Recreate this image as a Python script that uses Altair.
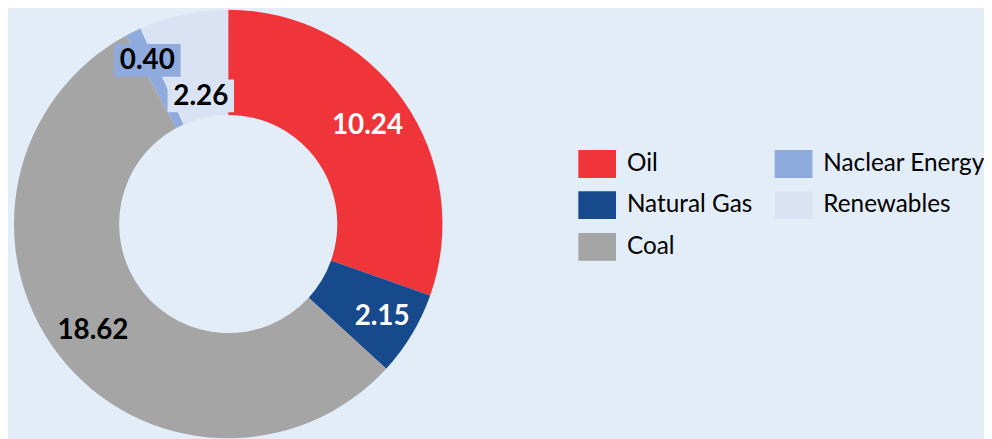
import altair as alt
import pandas as pd

categories = ["Oil", "Natural Gas", "Coal", "Naclear Energy", "Renewables"]
values = [10.24, 2.15, 18.62, 0.40, 2.26]
colors = ["#EF3539", "#174A8C", "#A5A5A5", "#8FAADC", "#DAE3F3"]

df = pd.DataFrame({
    "category": categories,
    "value": values,
    "order": list(range(len(values))),
})

CX, CY = 222, 216
R_OUT, R_IN = 216, 110
FONT = "Lato"

color_scale = alt.Scale(domain=categories, range=colors)

base = alt.Chart(df)

arcs = base.mark_arc(radius=R_OUT, radius2=R_IN, x=CX, y=CY, stroke=None).encode(
    theta=alt.Theta("value:Q", stack=True),
    order=alt.Order("order:Q"),
    color=alt.Color(
        "category:N",
        scale=color_scale,
        legend=alt.Legend(
            title=None,
            orient="none",
            legendX=575,
            legendY=136,
            columns=2,
            columnPadding=22,
            rowPadding=8,
            padding=0,
            symbolType="M-1,-0.737H1V0.737H-1Z",
            symbolSize=1444,
            symbolStrokeWidth=0,
            labelFont=FONT,
            labelFontSize=24.5,
            labelColor="#000000",
            labelOffset=11,
            labelLimit=400,
        ),
    ),
)

pos = (
    base.transform_joinaggregate(total="sum(value)")
    .transform_window(cum="sum(value)", sort=[alt.SortField("order")], frame=[None, 0])
    .transform_calculate(mid="2*PI*(datum.cum - datum.value/2)/datum.total")
    .transform_calculate(
        r="datum.category=='Oil' ? 172 : datum.category=='Natural Gas' ? 181 : "
          "datum.category=='Coal' ? 173 : datum.category=='Renewables' ? 132 : 184"
    )
    .transform_calculate(
        px=f"{CX} + datum.r*sin(datum.mid)",
        py=f"{CY} - datum.r*cos(datum.mid)",
    )
)

boxes = (
    pos.transform_filter("datum.category=='Naclear Energy' || datum.category=='Renewables'")
    .transform_calculate(
        bx1="datum.px - 33.5", bx2="datum.px + 33.5",
        by1="datum.py - 16.5", by2="datum.py + 16.5",
    )
    .mark_rect()
    .encode(
        x=alt.X("bx1:Q", scale=None),
        x2="bx2:Q",
        y=alt.Y("by1:Q", scale=None),
        y2="by2:Q",
        color=alt.Color("category:N", scale=color_scale, legend=None),
    )
)

labels = pos.mark_text(
    font=FONT, fontSize=28, fontWeight="bold", align="center", baseline="middle", dy=1
).encode(
    x=alt.X("px:Q", scale=None),
    y=alt.Y("py:Q", scale=None),
    text=alt.Text("value:Q", format=".2f"),
    color=alt.condition(
        "datum.category=='Oil' || datum.category=='Natural Gas'",
        alt.value("#FFFFFF"),
        alt.value("#000000"),
    ),
)

chart = (
    alt.layer(arcs, boxes, labels)
    .properties(
        width=444,
        height=431,
        autosize=alt.AutoSizeParams(type="none"),
        padding={"left": 0, "top": 0, "right": 540, "bottom": 0},
        background="#E3EDF8",
    )
    .configure_view(stroke=None)
)

chart.save("out.html", embed_options={"renderer": "svg", "actions": False})
